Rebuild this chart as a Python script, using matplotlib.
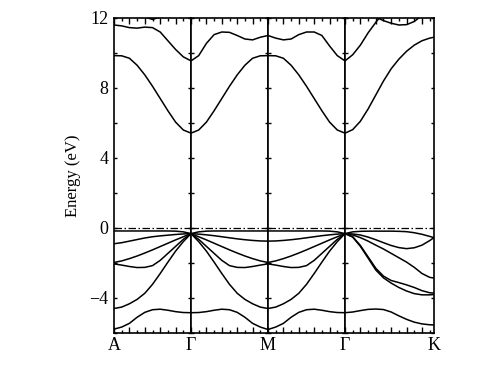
import numpy as np
import matplotlib
matplotlib.use("Agg")
import matplotlib.pyplot as plt
from matplotlib.ticker import MultipleLocator, NullFormatter

nan = np.nan
K_END = 4.1547

# k-path sample positions (A-Γ, Γ-M, M-Γ, Γ-K)
k = [0.0, 0.1, 0.2, 0.3, 0.4, 0.5, 0.6, 0.7, 0.8, 0.9, 1.0,
     1.1, 1.2, 1.3, 1.4, 1.5, 1.6, 1.7, 1.8, 1.9, 2.0,
     2.1, 2.2, 2.3, 2.4, 2.5, 2.6, 2.7, 2.8, 2.9, 3.0,
     3.1, 3.2, 3.3, 3.4, 3.5, 3.6, 3.7, 3.8, 3.9, 4.0, 4.1, K_END]

sym_pos = [0.0, 1.0, 2.0, 3.0, K_END]
sym_labels = ["A", "Γ", "M", "Γ", "K"]

# conduction bands
cb1 = [9.85, 9.84, 9.7, 9.3, 8.75, 8.1, 7.4, 6.7, 6.05, 5.6, 5.42,
       5.6, 6.05, 6.7, 7.4, 8.1, 8.75, 9.3, 9.7, 9.84, 9.85,
       9.84, 9.7, 9.3, 8.75, 8.1, 7.4, 6.7, 6.05, 5.6, 5.42,
       5.62, 6.1, 6.8, 7.6, 8.4, 9.1, 9.65, 10.1, 10.45, 10.7, 10.85, 10.9]
cb2 = [11.6, 11.55, 11.45, 11.42, 11.48, 11.45, 11.2, 10.7, 10.2, 9.78, 9.55,
       9.85, 10.55, 11.05, 11.2, 11.18, 11.0, 10.8, 10.75, 10.9, 11.0,
       10.85, 10.75, 10.8, 11.05, 11.2, 11.2, 11.0, 10.4, 9.85, 9.55,
       9.9, 10.45, 11.15, 11.75, 12.3, nan, nan, nan, nan, nan, nan, nan]
cb3 = [nan, nan, nan, 12.35, 12.05, 11.92, 12.05, 12.35, nan, nan, nan,
       nan, nan, nan, nan, nan, nan, nan, nan, nan, nan,
       nan, nan, nan, nan, nan, nan, nan, nan, nan, nan,
       nan, 12.6, 12.3, 12.05, 11.85, 11.7, 11.6, 11.62, 11.8, 12.15, 12.5, nan]

# valence bands
vb1 = [-0.17, -0.17, -0.17, -0.17, -0.17, -0.17, -0.17, -0.17, -0.18, -0.22, -0.32,
       -0.22, -0.18, -0.17, -0.17, -0.17, -0.17, -0.17, -0.17, -0.17, -0.17,
       -0.17, -0.17, -0.17, -0.17, -0.17, -0.17, -0.17, -0.18, -0.22, -0.32,
       -0.22, -0.19, -0.18, -0.18, -0.18, -0.18, -0.19, -0.21, -0.27, -0.36, -0.48, -0.55]
vb2 = [-0.9, -0.84, -0.75, -0.66, -0.57, -0.5, -0.45, -0.41, -0.37, -0.34, -0.32,
       -0.35, -0.39, -0.44, -0.5, -0.56, -0.62, -0.67, -0.71, -0.74, -0.75,
       -0.74, -0.71, -0.67, -0.62, -0.56, -0.5, -0.44, -0.39, -0.35, -0.32,
       -0.34, -0.4, -0.52, -0.67, -0.84, -1.0, -1.12, -1.18, -1.13, -0.98, -0.72, -0.55]
vb3 = [-1.97, -1.88, -1.75, -1.6, -1.43, -1.25, -1.06, -0.87, -0.68, -0.5, -0.32,
       -0.5, -0.68, -0.87, -1.06, -1.25, -1.43, -1.6, -1.75, -1.88, -1.97,
       -1.88, -1.75, -1.6, -1.43, -1.25, -1.06, -0.87, -0.68, -0.5, -0.32,
       -0.4, -0.55, -0.75, -0.98, -1.2, -1.45, -1.7, -1.95, -2.25, -2.6, -2.82, -2.86]
vb4 = [-2.05, -2.12, -2.2, -2.26, -2.25, -2.15, -1.85, -1.45, -1.05, -0.65, -0.32,
       -0.65, -1.05, -1.45, -1.85, -2.15, -2.25, -2.26, -2.2, -2.12, -2.05,
       -2.12, -2.2, -2.26, -2.25, -2.15, -1.85, -1.45, -1.05, -0.65, -0.32,
       -0.5, -1.0, -1.65, -2.3, -2.75, -3.0, -3.12, -3.25, -3.4, -3.58, -3.7, -3.72]
vb5 = [-4.6, -4.52, -4.33, -4.08, -3.73, -3.22, -2.6, -1.95, -1.32, -0.78, -0.32,
       -0.78, -1.32, -1.95, -2.6, -3.22, -3.73, -4.08, -4.33, -4.52, -4.6,
       -4.52, -4.33, -4.08, -3.73, -3.22, -2.6, -1.95, -1.32, -0.78, -0.32,
       -0.52, -1.05, -1.72, -2.4, -2.85, -3.15, -3.4, -3.6, -3.75, -3.82, -3.82, -3.8]
vb6 = [-5.78, -5.66, -5.45, -5.1, -4.82, -4.67, -4.64, -4.7, -4.78, -4.83, -4.84,
       -4.83, -4.78, -4.7, -4.64, -4.67, -4.82, -5.1, -5.45, -5.66, -5.8,
       -5.66, -5.45, -5.1, -4.82, -4.67, -4.64, -4.7, -4.78, -4.83, -4.84,
       -4.8, -4.72, -4.65, -4.63, -4.66, -4.8, -5.02, -5.22, -5.38, -5.48, -5.53, -5.54]

bands = [cb1, cb2, cb3, vb1, vb2, vb3, vb4, vb5, vb6]
fermi = 0.0

plt.rcParams["font.family"] = ["Liberation Serif", "DejaVu Serif"]
plt.rcParams["font.size"] = 13
plt.rcParams["axes.unicode_minus"] = True

fig = plt.figure(figsize=(4.91, 3.75), dpi=100)
rect = [0.2322, 0.112, 0.8837 - 0.2322, 0.952 - 0.112]
seg_widths = [sym_pos[i + 1] - sym_pos[i] for i in range(4)]
gs = fig.add_gridspec(1, 4, left=rect[0], right=rect[0] + rect[2],
                      bottom=rect[1], top=rect[1] + rect[3],
                      wspace=0, width_ratios=seg_widths)

axes = []
for i in range(4):
    ax = fig.add_subplot(gs[0, i])
    for b in bands:
        ax.plot(k, b, color="black", lw=1.1, solid_joinstyle="round")
    ax.axhline(fermi, color="black", lw=0.9, ls=(0, (6, 2, 1.2, 2)))
    ax.set_xlim(sym_pos[i], sym_pos[i + 1])
    ax.set_ylim(-6, 12)
    ax.xaxis.set_major_locator(MultipleLocator(0.2))
    ax.xaxis.set_minor_locator(MultipleLocator(0.1))
    ax.xaxis.set_major_formatter(NullFormatter())
    ax.yaxis.set_major_locator(MultipleLocator(4))
    ax.yaxis.set_minor_locator(MultipleLocator(2))
    ax.tick_params(axis="x", which="both", direction="in", top=True, bottom=True)
    ax.tick_params(axis="x", which="major", length=4.2, width=1.0)
    ax.tick_params(axis="x", which="minor", length=2.3, width=1.0)
    ax.tick_params(axis="y", which="both", direction="in", left=True, right=True,
                   length=2.3, width=1.0, pad=4)
    if i > 0:
        ax.yaxis.set_major_formatter(NullFormatter())
    for s in ax.spines.values():
        s.set_linewidth(1.2)
    axes.append(ax)

axes[0].set_ylabel("Energy (eV)", fontsize=12, labelpad=6)

# overlay axis carrying the high-symmetry point labels
axl = fig.add_axes(rect, zorder=-1)
axl.set_xlim(0, K_END)
axl.set_xticks(sym_pos)
axl.set_xticklabels(sym_labels)
axl.tick_params(axis="x", length=0, pad=3)
axl.set_yticks([])
for s in axl.spines.values():
    s.set_visible(False)
axl.patch.set_visible(False)

fig.savefig("out.png", dpi=100)
